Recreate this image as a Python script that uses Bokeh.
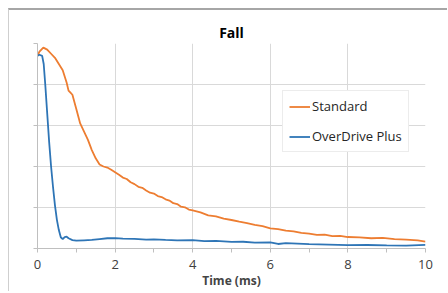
from bokeh.plotting import figure
from bokeh.models import Range1d, Legend, LegendItem, FixedTicker, CustomJSTickFormatter
from bokeh.embed import file_html
from bokeh.resources import INLINE

# Standard (orange) series
std_t = [0, 0.05, 0.1, 0.15, 0.25, 0.35, 0.45, 0.55, 0.65, 0.75, 0.8, 0.85, 0.9, 1.0, 1.1, 1.2,
         1.3, 1.4, 1.5, 1.6, 1.7, 1.8, 1.9, 2.0, 2.1, 2.2, 2.3, 2.4, 2.5, 2.6, 2.7, 2.8, 2.9,
         3.0, 3.1, 3.2, 3.3, 3.4, 3.5, 3.6, 3.7, 3.8, 3.9, 4.0, 4.2, 4.4, 4.6, 4.8, 5.0, 5.2,
         5.4, 5.6, 5.8, 6.0, 6.2, 6.4, 6.6, 6.8, 7.0, 7.2, 7.4, 7.6, 7.8, 8.0, 8.3, 8.6, 8.9,
         9.2, 9.5, 9.8, 10.0]
std_v = [94, 96, 97, 98, 97, 95, 93, 90, 87, 81, 77, 76, 75, 68, 61, 57,
         53, 48, 44, 41, 40, 39.5, 38.4, 37.2, 36.0, 34.6, 33.9, 32.3, 31.4, 30.1, 29.6, 28.3, 27.2,
         26.8, 25.6, 25.1, 24.0, 23.4, 22.1, 21.7, 20.4, 20.1, 19.0, 18.6, 17.6, 16.2, 15.7, 14.6, 13.9, 13.1,
         12.4, 11.5, 10.9, 9.8, 9.5, 8.7, 8.4, 7.6, 7.3, 6.6, 6.8, 6.0, 6.2, 5.6, 5.4, 5.0, 5.2,
         4.6, 4.3, 4.0, 3.4]

# OverDrive Plus (blue) series
od_t = [0, 0.05, 0.12, 0.16, 0.2, 0.25, 0.3, 0.35, 0.4, 0.45, 0.5, 0.55, 0.6, 0.65, 0.7, 0.75,
        0.8, 0.9, 1.0, 1.2, 1.4, 1.6, 1.8, 2.0, 2.2, 2.5, 2.8, 3.0, 3.3, 3.6, 4.0, 4.3, 4.6,
        5.0, 5.3, 5.6, 6.0, 6.2, 6.4, 6.7, 7.0, 7.5, 8.0, 8.5, 9.0, 9.5, 10.0]
od_v = [94, 94.5, 94, 90, 80, 66, 52, 40, 30, 21, 14, 9, 5.5, 4.6, 5.6, 5.8,
        5.0, 4.1, 3.8, 4.0, 4.2, 4.6, 5.0, 5.1, 4.8, 4.7, 4.3, 4.5, 4.2, 4.0, 4.1, 3.6, 3.7,
        3.2, 3.3, 2.9, 3.0, 2.2, 2.6, 2.4, 2.1, 1.9, 1.6, 1.7, 1.5, 1.4, 1.8]

x_ticks = [0, 2, 4, 6, 8, 10]
y_ticks = [0, 20, 40, 60, 80, 100]
title_text = "Fall"
x_label = "Time (ms)"
names = ["Standard", "OverDrive Plus"]

FONT = "Open Sans"

p = figure(width=439, height=283, output_backend="svg", toolbar_location=None,
           x_range=Range1d(0, 10), y_range=Range1d(0, 100),
           min_border_left=28, min_border_right=23, min_border_top=33, min_border_bottom=45)
p.styles = {"margin-top": "8px", "margin-left": "8px",
            "border-top": "2px solid #a6a6a6", "border-left": "1px solid #cfcfcf"}

p.title.text = title_text
p.title.align = "center"
p.title.text_font = FONT
p.title.text_font_size = "14px"
p.title.text_font_style = "bold"
p.title.text_color = "#000000"
p.title.standoff = 4
p.title.offset = 0

p.outline_line_color = None
p.background_fill_color = "white"
p.border_fill_color = "white"

p.xaxis.ticker = FixedTicker(ticks=x_ticks, minor_ticks=[1, 3, 5, 7, 9])
p.yaxis.ticker = FixedTicker(ticks=y_ticks)
p.xgrid.grid_line_color = "#d9d9d9"
p.ygrid.grid_line_color = "#d9d9d9"

p.xaxis.axis_label = x_label
p.xaxis.axis_label_text_font = FONT
p.xaxis.axis_label_text_font_size = "12px"
p.xaxis.axis_label_text_font_style = "bold"
p.xaxis.axis_label_standoff = 0
p.xaxis.major_label_standoff = 7
p.xaxis.major_label_text_font = FONT
p.xaxis.major_label_text_font_size = "13px"
p.xaxis.major_label_text_color = "#404040"
p.xaxis.axis_line_color = "#bfbfbf"
p.xaxis.major_tick_line_color = "#bfbfbf"
p.xaxis.minor_tick_line_color = "#bfbfbf"
p.xaxis.major_tick_out = 4
p.xaxis.major_tick_in = 0
p.xaxis.minor_tick_out = 4
p.xaxis.minor_tick_in = 0

p.yaxis.formatter = CustomJSTickFormatter(code="return '';")
p.yaxis.axis_line_color = "#bfbfbf"
p.yaxis.major_tick_line_color = "#bfbfbf"
p.yaxis.major_tick_out = 4
p.yaxis.major_tick_in = 0
p.yaxis.minor_tick_line_color = None
p.yaxis.major_label_text_font_size = "1px"

r1 = p.line(std_t, std_v, line_color="#ED7D31", line_width=1.8)
r2 = p.line(od_t, od_v, line_color="#2E75B6", line_width=1.8)

legend = Legend(items=[LegendItem(label=names[0], renderers=[r1]),
                       LegendItem(label=names[1], renderers=[r2])],
                location=(245, 96))
legend.label_text_font = FONT
legend.label_text_font_size = "13px"
legend.label_text_color = "#262626"
legend.glyph_width = 21
legend.glyph_height = 17
legend.label_standoff = 2
legend.spacing = 12
legend.padding = 6
legend.margin = 0
legend.border_line_color = "#d9d9d9"
legend.background_fill_color = "white"
legend.background_fill_alpha = 1
p.add_layout(legend, "center")

open("out.html", "w").write(file_html(p, INLINE))
